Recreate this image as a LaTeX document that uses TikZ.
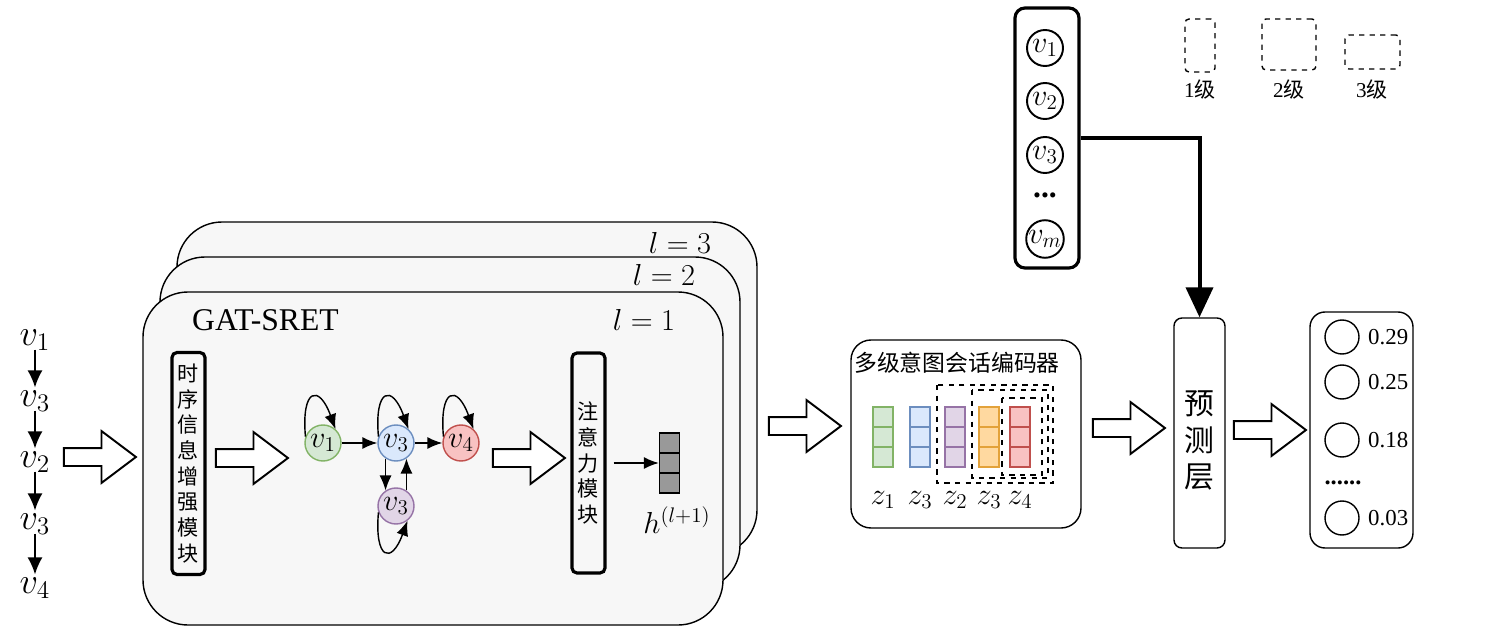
\documentclass[tikz,border=0pt]{standalone}
\usepackage{amsmath,amssymb}
\usepackage{fontspec}
\setmainfont{Liberation Serif}
\newfontfamily\cjk{Noto Sans CJK SC}
\usetikzlibrary{arrows.meta,shapes.arrows}

\definecolor{gfill}{HTML}{D5E8D4}\definecolor{gline}{HTML}{82B366}
\definecolor{bfill}{HTML}{DAE8FC}\definecolor{bline}{HTML}{6C8EBF}
\definecolor{pfill}{HTML}{E1D5E7}\definecolor{pline}{HTML}{9673A6}
\definecolor{ofill}{HTML}{FFD9A0}\definecolor{oline}{HTML}{E3A23A}
\definecolor{rfill}{HTML}{F8C2C2}\definecolor{rline}{HTML}{C0504D}

\begin{document}
\begin{tikzpicture}[x=0.2mm,y=-0.2mm,
  every node/.style={font=\fontsize{12}{14}\selectfont},
  layerbox/.style={draw,thick,fill=gray!6,rounded corners=9mm},
  hollow/.style={single arrow,draw,line width=1.1pt,fill=white,minimum height=14.4mm,
    inner xsep=0pt,inner ysep=1.6mm,single arrow head extend=3.4mm,single arrow tip angle=74},
  modbox/.style={draw,line width=1.8pt,rounded corners=1mm,minimum width=6.6mm,align=center,
    inner sep=0pt,font=\cjk\fontsize{12}{14.6}\selectfont},
  gnode/.style={circle,draw,thick,minimum size=7.2mm,inner sep=0pt,font=\fontsize{17}{17}\selectfont},
  ring/.style={circle,draw,line width=1.1pt,minimum size=7.2mm,inner sep=0pt,font=\fontsize{17}{17}\selectfont},
  cell/.style={draw,thick,minimum width=4mm,minimum height=4mm,inner sep=0pt},
  lvbox/.style={draw,dashed,thick,rounded corners=0.8mm,inner sep=0pt},
  arr/.style={-{Latex[length=3mm,width=2.4mm]},thick},
  seq/.style={font=\fontsize{22}{22}\selectfont,inner sep=1pt}
]
\useasboundingbox[fill=white] (0,0) rectangle (1501,643);

% stacked GAT layers
\draw[layerbox] (177,222) rectangle (757,555);
\draw[layerbox] (160,257) rectangle (740,590);
\draw[layerbox] (143,292) rectangle (723,625);
\node[font=\fontsize{18}{20}\selectfont] (l3) at (680,243) {$l=3$};
\node[font=\fontsize{18}{20}\selectfont] (l2) at (664,275) {$l=2$};
\node[font=\fontsize{18}{20}\selectfont] (l1) at (644,320) {$l=1$};
\node[anchor=west,font=\fontsize{18}{20}\selectfont] (gat) at (186,320) {GAT-SRET};

% input sequence
\node[seq] (s1) at (35,340) {$v_1$};
\node[seq] (s2) at (35,401) {$v_3$};
\node[seq] (s3) at (35,462) {$v_2$};
\node[seq] (s4) at (35,524) {$v_3$};
\node[seq] (s5) at (35,588) {$v_4$};
\foreach \a/\b in {s1/s2,s2/s3,s3/s4,s4/s5}
  \draw[-{Latex[length=3.4mm,width=3mm]},thick,shorten <=-0.6mm,shorten >=0.2mm] (\a) -- (\b);

\node[hollow] (ar1) at (94,457) {};
\node[modbox,minimum height=44.4mm] (mod) at (188.5,463.5) {时\\序\\信\\息\\增\\强\\模\\块};
\node[hollow] (ar2) at (246,458) {};

% session graph
\node[gnode,fill=gfill,draw=gline] (g1) at (323,443) {$v_1$};
\node[gnode,fill=bfill,draw=bline] (g2) at (396,443) {$v_3$};
\node[gnode,fill=rfill,draw=rline] (g3) at (461,443) {$v_4$};
\node[gnode,fill=pfill,draw=pline] (g4) at (396,506) {$v_3$};
\draw[arr] (g1) -- (g2);
\draw[arr] (g2) -- (g3);
\draw[arr] (g2.236) -- (g4.124);
\draw[arr] (g4.56) -- (g2.304);
\foreach \g in {g1,g2,g3}
  \draw[arr] (\g.160) to[out=95,in=110,looseness=4] (\g.48);
\draw[arr] (g4.200) to[out=265,in=250,looseness=4] (g4.-52);

\node[hollow] (ar3) at (523,458) {};
\node[modbox,minimum height=44mm] (att) at (588.5,463) {注\\意\\力\\模\\块};

% output vector h
\foreach \k in {0,1,2}
  \node[cell,fill=black!40] (h\k) at (669.5,443+20*\k) {};
\draw[arr,shorten <=1.4mm] (att.east |- h1) -- (h1.west);
\node[font=\fontsize{18}{20}\selectfont] (hl) at (677,520) {$h^{(l+1)}$};

\node[hollow] (ar4) at (799,426) {};

% multi-level intent encoder
\node[draw,thick,rounded corners=4mm,minimum width=46mm,minimum height=37.6mm] (enc) at (966,434) {};
\node[font=\cjk\fontsize{13}{14}\selectfont] (enct) at (957,363) {多级意图会话编码器};
\foreach \x/\f/\d/\n/\t in {883/gfill/gline/1/z_1,920/bfill/bline/2/z_3,955/pfill/pline/3/z_2,
                           989/ofill/oline/4/z_3,1020/rfill/rline/5/z_4}{
  \foreach \k in {0,1,2}
    \node[cell,fill=\f,draw=\d] (z\n\k) at (\x,417+20*\k) {};
  \node[font=\fontsize{17}{17}\selectfont] (zl\n) at (\x,500) {$\t$};
}
\draw[dashed,thick] (937,385) rectangle (1053,483);
\draw[dashed,thick] (972,390) rectangle (1048,478);
\draw[dashed,thick] (1002,398) rectangle (1042,475);

\node[hollow] (ar5) at (1123,428) {};

% candidate items
\node[draw,line width=1.8pt,rounded corners=2mm,minimum width=12.8mm,minimum height=52mm] (items) at (1047,138) {};
\node[ring] (i1) at (1045,48) {$v_1$};
\node[ring] (i2) at (1045,101) {$v_2$};
\node[ring] (i3) at (1045,155) {$v_3$};
\node[font=\fontsize{18}{18}\selectfont\bfseries] (idots) at (1045,195) {...};
\node[ring] (im) at (1045,239) {$v_m$};

% prediction layer
\node[draw,thick,rounded corners=1.6mm,minimum width=10.2mm,minimum height=46mm,align=center,
  font=\cjk\fontsize{17}{20.5}\selectfont,text depth=0pt] (pred) at (1199.5,433) {\\预\\测\\层};
\draw[line width=0.8mm,-{Triangle[length=6mm,width=5.4mm]}] (items.east) -| (pred.north);

\node[hollow] (ar6) at (1264,430) {};

% scores
\node[draw,thick,rounded corners=3mm,minimum width=20.6mm,minimum height=47.2mm] (out) at (1361.5,430) {};
\foreach \n/\y/\p in {1/337/0.29,2/382/0.25,3/440/0.18,4/518/0.03}{
  \node[circle,draw,thick,minimum size=6.8mm,inner sep=0pt] (o\n) at (1342,\y) {};
  \node[anchor=west,font=\fontsize{13}{14}\selectfont] (p\n) at (1362,\y) {\p};
}
\node[font=\fontsize{14}{14}\selectfont\bfseries] (odots) at (1343,483) {......};

% legend
\node[lvbox,minimum width=6mm,minimum height=10.6mm] (lv1) at (1200,45.5) {};
\node[lvbox,minimum width=10.8mm,minimum height=10.2mm] (lv2) at (1289,44.5) {};
\node[lvbox,minimum width=11mm,minimum height=6.8mm] (lv3) at (1372.5,52) {};
\node[font=\fontsize{12}{14}\selectfont] (ll1) at (1200,89) {1{\cjk 级}};
\node[font=\fontsize{12}{14}\selectfont] (ll2) at (1289,89) {2{\cjk 级}};
\node[font=\fontsize{12}{14}\selectfont] (ll3) at (1372,89) {3{\cjk 级}};
\end{tikzpicture}
\end{document}
